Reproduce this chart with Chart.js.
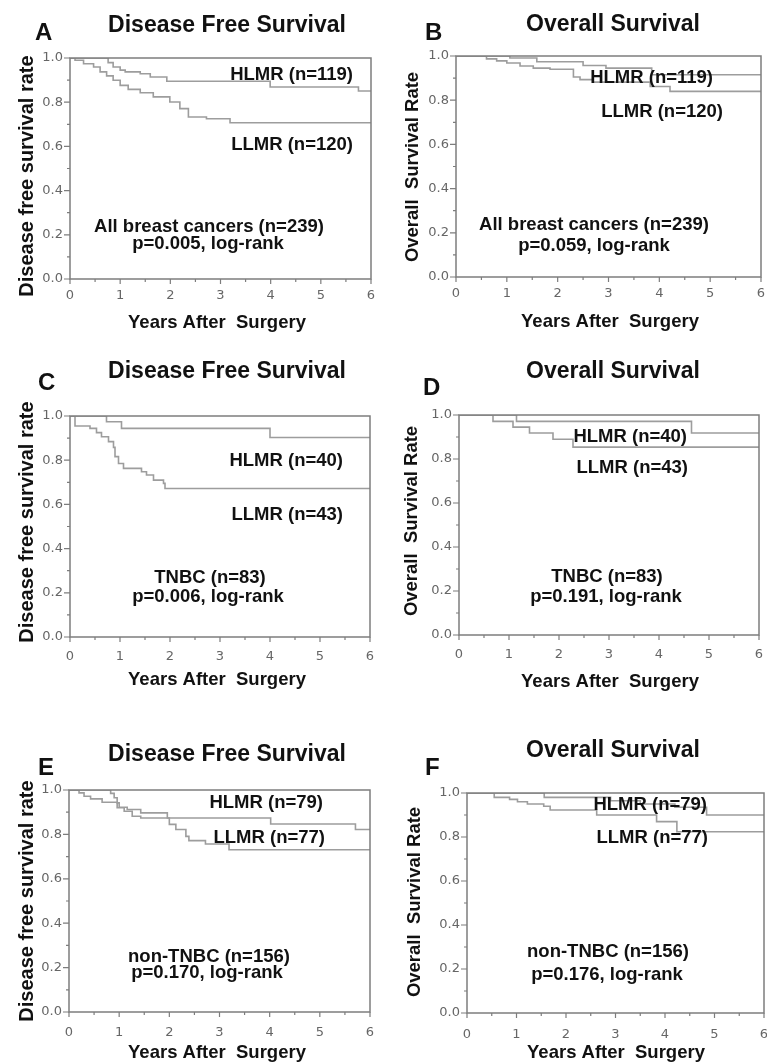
<!DOCTYPE html>
<html>
<head>
<meta charset="utf-8">
<script src="https://cdn.jsdelivr.net/npm/chart.js@4.4.1/dist/chart.umd.min.js"></script>
<style>
  html, body { margin: 0; padding: 0; background: #fff; width: 767px; height: 1063px; overflow: hidden; }
  canvas { position: absolute; }
</style>
</head>
<body>
<canvas id="chartA"></canvas>
<canvas id="chartB"></canvas>
<canvas id="chartC"></canvas>
<canvas id="chartD"></canvas>
<canvas id="chartE"></canvas>
<canvas id="chartF"></canvas>
<script>
// === Axis values ===
const xTicks = [0, 1, 2, 3, 4, 5, 6];
const xMinor = [0.5, 1.5, 2.5, 3.5, 4.5, 5.5];
const yTicks = [0, 0.2, 0.4, 0.6, 0.8, 1.0];
const yMinor = [0.1, 0.3, 0.5, 0.7, 0.9];

// === A: disease free survival, all breast cancers ===
const aHighT = [0, 0.76, 0.86, 1.0, 1.1, 1.4, 1.6, 1.93, 3.99, 5.75, 6];
const aHighS = [1, 0.979, 0.959, 0.945, 0.937, 0.929, 0.914, 0.895, 0.869, 0.851, 0.851];
const aLowT = [0, 0.1, 0.27, 0.47, 0.6, 0.73, 0.86, 1.0, 1.16, 1.4, 1.66, 1.99, 2.19, 2.36, 2.72, 3.19, 6];
const aLowS = [1, 0.99, 0.974, 0.959, 0.937, 0.919, 0.899, 0.876, 0.858, 0.843, 0.824, 0.801, 0.771, 0.733, 0.725, 0.707, 0.707];

// === B: overall survival, all breast cancers ===
const bHighT = [0, 1.06, 1.59, 2.5, 2.95, 3.85, 6];
const bHighS = [1, 0.991, 0.974, 0.957, 0.945, 0.915, 0.915];
const bLowT = [0, 0.6, 0.8, 1.0, 1.26, 1.52, 1.85, 2.31, 2.44, 2.7, 3.82, 4.21, 6];
const bLowS = [1, 0.987, 0.978, 0.968, 0.955, 0.945, 0.94, 0.905, 0.893, 0.882, 0.862, 0.84, 0.84];

// === C: disease free survival, TNBC ===
const cHighT = [0, 0.73, 1.03, 4.0, 6];
const cHighS = [1, 0.974, 0.944, 0.903, 0.903];
const cLowT = [0, 0.1, 0.4, 0.53, 0.63, 0.77, 0.87, 0.9, 0.97, 1.07, 1.43, 1.53, 1.67, 1.87, 1.9, 6];
const cLowS = [1, 0.955, 0.944, 0.925, 0.906, 0.884, 0.858, 0.816, 0.785, 0.763, 0.748, 0.733, 0.71, 0.695, 0.672, 0.672];

// === D: overall survival, TNBC ===
const dHighT = [0, 1.15, 4.65, 6];
const dHighS = [1, 0.971, 0.918, 0.918];
const dLowT = [0, 0.68, 1.08, 1.41, 1.88, 2.28, 6];
const dLowS = [1, 0.971, 0.945, 0.918, 0.89, 0.854, 0.854];

// === E: disease free survival, non-TNBC ===
const eHighT = [0, 0.83, 0.9, 0.96, 1.0, 1.16, 1.43, 1.96, 4.02, 5.71, 6];
const eHighS = [1, 0.985, 0.965, 0.942, 0.922, 0.912, 0.897, 0.874, 0.847, 0.822, 0.822];
const eLowT = [0, 0.2, 0.3, 0.43, 0.66, 0.96, 1.1, 1.26, 1.43, 2.0, 2.13, 2.33, 2.39, 2.72, 3.19, 6];
const eLowS = [1, 0.987, 0.972, 0.96, 0.945, 0.92, 0.904, 0.882, 0.874, 0.845, 0.822, 0.791, 0.772, 0.757, 0.731, 0.731];

// === F: overall survival, non-TNBC ===
const fHighT = [0, 1.56, 2.9, 3.5, 4.2, 4.84, 6];
const fHighS = [1, 0.98, 0.965, 0.95, 0.935, 0.9, 0.9];
const fLowT = [0, 0.55, 0.86, 1.02, 1.22, 1.55, 1.68, 2.62, 3.83, 4.24, 6];
const fLowS = [1, 0.98, 0.971, 0.96, 0.95, 0.94, 0.923, 0.9, 0.87, 0.824, 0.824];

// === Panel layout (page pixels) ===
const DFS = 'Disease Free Survival', OS = 'Overall Survival';
const DFS_Y = 'Disease free survival rate', OS_Y = 'Overall  Survival Rate';
const X_T = 'Years After  Surgery';

const panels = [
  { id: 'chartA', box: [0, 0, 383, 345], plot: [70, 58, 371, 279], tickPad: 9,
    letter: ['A', 35, 40], title: [DFS, 227, 32], yTitle: [DFS_Y, 27, 176, 20], xTitle: [X_T, 217, 328],
    high: [aHighT, aHighS], low: [aLowT, aLowS],
    notes: [['HLMR (n=119)', 353, 80, 'right'], ['LLMR (n=120)', 353, 150, 'right'],
            ['All breast cancers (n=239)', 209, 232, 'center'], ['p=0.005, log-rank', 208, 249, 'center']] },
  { id: 'chartB', box: [383, 0, 384, 345], plot: [456, 56, 761, 277], tickPad: 9,
    letter: ['B', 425, 40], title: [OS, 613, 31], yTitle: [OS_Y, 413, 167, 18.5], xTitle: [X_T, 610, 327],
    high: [bHighT, bHighS], low: [bLowT, bLowS],
    notes: [['HLMR (n=119)', 713, 83, 'right'], ['LLMR (n=120)', 723, 117, 'right'],
            ['All breast cancers (n=239)', 594, 230, 'center'], ['p=0.059, log-rank', 594, 251, 'center']] },
  { id: 'chartC', box: [0, 345, 383, 355], plot: [70, 416, 370, 637], tickPad: 12,
    letter: ['C', 38, 390], title: [DFS, 227, 378], yTitle: [DFS_Y, 27, 522, 20], xTitle: [X_T, 217, 685],
    high: [cHighT, cHighS], low: [cLowT, cLowS],
    notes: [['HLMR (n=40)', 343, 466, 'right'], ['LLMR (n=43)', 343, 520, 'right'],
            ['TNBC (n=83)', 210, 583, 'center'], ['p=0.006, log-rank', 208, 602, 'center']] },
  { id: 'chartD', box: [383, 345, 384, 355], plot: [459, 415, 759, 635], tickPad: 12,
    letter: ['D', 423, 395], title: [OS, 613, 378], yTitle: [OS_Y, 412, 521, 18.5], xTitle: [X_T, 610, 687],
    high: [dHighT, dHighS], low: [dLowT, dLowS],
    notes: [['HLMR (n=40)', 687, 442, 'right'], ['LLMR (n=43)', 688, 473, 'right'],
            ['TNBC (n=83)', 607, 582, 'center'], ['p=0.191, log-rank', 606, 602, 'center']] },
  { id: 'chartE', box: [0, 700, 383, 363], plot: [69, 790, 370, 1012], tickPad: 13,
    letter: ['E', 38, 775], title: [DFS, 227, 761], yTitle: [DFS_Y, 27, 901, 20], xTitle: [X_T, 217, 1058],
    high: [eHighT, eHighS], low: [eLowT, eLowS],
    notes: [['HLMR (n=79)', 323, 808, 'right'], ['LLMR (n=77)', 325, 843, 'right'],
            ['non-TNBC (n=156)', 209, 962, 'center'], ['p=0.170, log-rank', 207, 978, 'center']] },
  { id: 'chartF', box: [383, 700, 384, 363], plot: [467, 793, 764, 1013], tickPad: 14,
    letter: ['F', 425, 775], title: [OS, 613, 757], yTitle: [OS_Y, 415, 902, 18.5], xTitle: [X_T, 616, 1058],
    high: [fHighT, fHighS], low: [fLowT, fLowS],
    notes: [['HLMR (n=79)', 707, 810, 'right'], ['LLMR (n=77)', 708, 843, 'right'],
            ['non-TNBC (n=156)', 608, 957, 'center'], ['p=0.176, log-rank', 607, 980, 'center']] }
];

const Y_W = 40, X_H = 30;
const CURVE = '#9d9d9d', FRAME = '#7d7d7d', TICK_TXT = '#666', INK = '#111';
const BOLD = '"Liberation Sans", Arial, sans-serif';

// frame, minor/major ticks and all the panel texts
const decor = {
  id: 'decor',
  afterDraw(chart, args, opts) {
    const p = opts.panel;
    const ctx = chart.ctx;
    const { left, top, right, bottom } = chart.chartArea;
    const xs = chart.scales.x, ys = chart.scales.y;
    const ox = p.box[0], oy = p.box[1];
    ctx.save();
    ctx.strokeStyle = FRAME;
    ctx.lineWidth = 1.5;
    ctx.strokeRect(left, top, right - left, bottom - top);
    ctx.beginPath();
    yTicks.forEach(v => { const y = ys.getPixelForValue(v); ctx.moveTo(left - 6, y); ctx.lineTo(left, y); });
    yMinor.forEach(v => { const y = ys.getPixelForValue(v); ctx.moveTo(left - 3, y); ctx.lineTo(left, y); });
    xTicks.forEach(v => { const x = xs.getPixelForValue(v); ctx.moveTo(x, bottom); ctx.lineTo(x, bottom + 5); });
    xMinor.forEach(v => { const x = xs.getPixelForValue(v); ctx.moveTo(x, bottom); ctx.lineTo(x, bottom + 3); });
    ctx.lineWidth = 1.2;
    ctx.stroke();

    ctx.fillStyle = INK;
    ctx.textBaseline = 'alphabetic';
    ctx.font = 'bold 24px ' + BOLD;
    ctx.textAlign = 'left';
    ctx.fillText(p.letter[0], p.letter[1] - ox, p.letter[2] - oy);
    ctx.font = 'bold 23px ' + BOLD;
    ctx.textAlign = 'center';
    ctx.fillText(p.title[0], p.title[1] - ox, p.title[2] - oy);
    ctx.font = 'bold 18.5px ' + BOLD;
    ctx.fillText(p.xTitle[0], p.xTitle[1] - ox, p.xTitle[2] - oy);
    p.notes.forEach(([t, x, y, a]) => {
      ctx.textAlign = a;
      ctx.fillText(t, x - ox, y - oy);
    });
    ctx.font = 'bold ' + p.yTitle[3] + 'px ' + BOLD;
    ctx.translate(p.yTitle[1] - ox, p.yTitle[2] - oy);
    ctx.rotate(-Math.PI / 2);
    ctx.textAlign = 'center';
    ctx.textBaseline = 'middle';
    ctx.fillText(p.yTitle[0], 0, 0);
    ctx.restore();
  }
};

// Kaplan-Meier step: stay level, then drop at the event time
function curve(t, s) {
  return {
    data: t.map((v, i) => ({ x: v, y: s[i] })),
    stepped: 'before',
    borderColor: CURVE,
    borderWidth: 1.6,
    pointRadius: 0,
    fill: false
  };
}

panels.forEach(p => {
  const [bx, by, bw, bh] = p.box;
  const [pl, pt, pr, pb] = p.plot;
  const canvas = document.getElementById(p.id);
  canvas.width = bw;
  canvas.height = bh;
  canvas.style.left = bx + 'px';
  canvas.style.top = by + 'px';

  new Chart(canvas, {
    type: 'line',
    data: { datasets: [curve(p.high[0], p.high[1]), curve(p.low[0], p.low[1])] },
    options: {
      responsive: false,
      animation: false,
      devicePixelRatio: 1,
      layout: {
        autoPadding: false,
        padding: { left: pl - bx - Y_W, top: pt - by, right: bx + bw - pr, bottom: by + bh - pb - X_H }
      },
      scales: {
        x: {
          type: 'linear', min: 0, max: 6,
          grid: { display: false, drawTicks: false },
          border: { display: false },
          ticks: { stepSize: 1, padding: p.tickPad, color: TICK_TXT, font: { family: '"DejaVu Sans"', size: 13 }, maxRotation: 0 },
          afterFit(s) { s.height = X_H; s.paddingLeft = 0; s.paddingRight = 0; }
        },
        y: {
          min: 0, max: 1,
          grid: { display: false, drawTicks: false },
          border: { display: false },
          ticks: { stepSize: 0.2, padding: 7, color: TICK_TXT, font: { family: '"DejaVu Sans"', size: 13 },
                   callback: v => v.toFixed(1) },
          afterFit(s) { s.width = Y_W; s.paddingTop = 0; s.paddingBottom = 0; }
        }
      },
      plugins: {
        legend: { display: false },
        tooltip: { enabled: false },
        decor: { panel: p }
      }
    },
    plugins: [decor]
  });
});
</script>
</body>
</html>
